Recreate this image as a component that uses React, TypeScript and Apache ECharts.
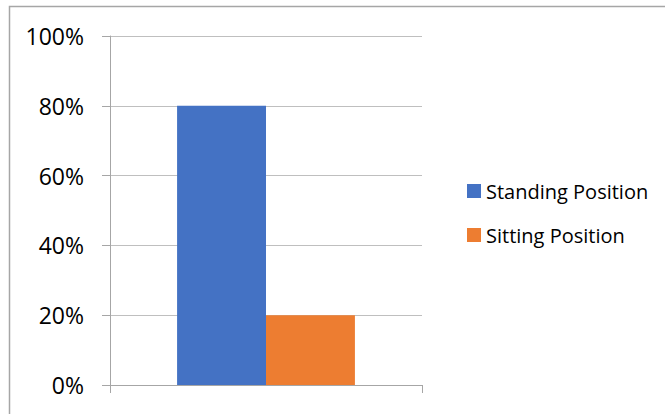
import React, { useEffect, useRef } from "react";
import * as echarts from "echarts";

const categories = [""];
const seriesNames = ["Standing Position", "Sitting Position"];
const standingValues = [0.8];
const sittingValues = [0.2];
const colors = ["#4472C4", "#ED7D31"];

export default function App() {
  const ref = useRef<HTMLDivElement>(null);
  useEffect(() => {
    if (!ref.current) return;
    const chart = echarts.init(ref.current, null, { renderer: "svg" });
    chart.setOption({
      animation: false,
      backgroundColor: "#ffffff",
      textStyle: { fontFamily: "Open Sans" },
      graphic: [
        {
          type: "rect",
          shape: { x: 9.5, y: 6.5, width: 700, height: 500 },
          style: { fill: "none", stroke: "#a6a6a6", lineWidth: 1.5 },
          silent: true,
        },
      ],
      grid: { left: 110, right: 243, top: 36, bottom: 29 },
      legend: {
        orient: "vertical",
        left: 462,
        top: 176,
        itemWidth: 14,
        itemHeight: 14,
        itemGap: 24,
        icon: "rect",
        data: seriesNames,
        textStyle: { fontSize: 20, color: "#000", fontFamily: "Open Sans" },
      },
      xAxis: {
        type: "category",
        data: categories,
        axisLine: { show: true, lineStyle: { color: "#a6a6a6", width: 1 } },
        axisTick: { show: true, length: 8, lineStyle: { color: "#a6a6a6" } },
        axisLabel: { show: false },
        splitLine: { show: false },
      },
      yAxis: {
        type: "value",
        min: 0,
        max: 1,
        interval: 0.2,
        axisLine: { show: true, lineStyle: { color: "#a6a6a6", width: 1 } },
        axisTick: { show: true, length: 8, lineStyle: { color: "#a6a6a6" } },
        axisLabel: {
          margin: 26,
          fontSize: 23,
          color: "#000",
          fontFamily: "Open Sans",
          formatter: (v: number) => Math.round(v * 100) + "%",
        },
        splitLine: { show: true, lineStyle: { color: "#bfbfbf", width: 1 } },
      },
      series: [
        {
          name: seriesNames[0],
          type: "bar",
          data: standingValues,
          itemStyle: { color: colors[0] },
          barGap: "0%",
          barCategoryGap: "43%",
        },
        {
          name: seriesNames[1],
          type: "bar",
          data: sittingValues,
          itemStyle: { color: colors[1] },
          barGap: "0%",
          barCategoryGap: "43%",
        },
      ],
    });
    return () => chart.dispose();
  }, []);
  return (
    <div
      ref={ref}
      style={{ position: "absolute", left: 0, top: 0, width: 665, height: 414 }}
    />
  );
}
